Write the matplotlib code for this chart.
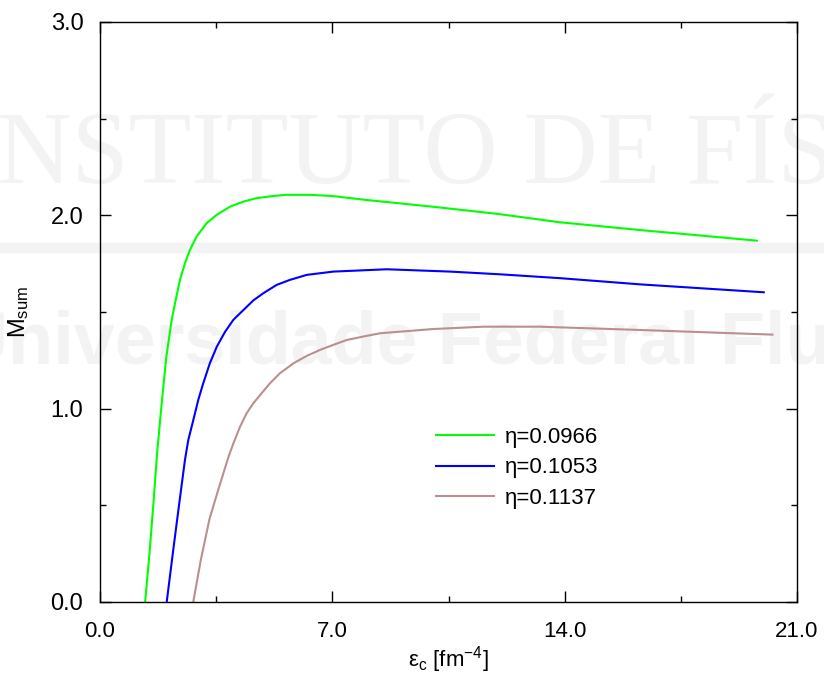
import matplotlib
matplotlib.use("Agg")
import matplotlib.pyplot as plt
from matplotlib.ticker import MultipleLocator, FormatStrFormatter
from matplotlib.patches import Rectangle

plt.rcParams['font.family'] = ['Liberation Sans', 'DejaVu Sans']
plt.rcParams['mathtext.fontset'] = 'custom'
plt.rcParams['mathtext.rm'] = 'Liberation Sans'
plt.rcParams['mathtext.it'] = 'Liberation Sans'

# eta = 0.0966
green_x = [1.36, 1.49, 1.61, 1.72, 1.86, 2.0, 2.16, 2.26, 2.41, 2.56, 2.71, 2.91,
           3.21, 3.51, 3.92, 4.32, 4.72, 5.22, 5.62, 6.33, 7.0, 8.0, 10.0, 12.0,
           13.86, 16.27, 19.79]
green_y = [0.0, 0.25, 0.51, 0.77, 1.03, 1.27, 1.459, 1.545, 1.666, 1.752, 1.821, 1.89,
           1.959, 2.002, 2.045, 2.071, 2.089, 2.100, 2.106, 2.106, 2.10, 2.08, 2.045, 2.007,
           1.964, 1.924, 1.869]

# eta = 0.1053
blue_x = [2.01, 2.2, 2.38, 2.56, 2.66, 2.81, 2.96, 3.11, 3.31, 3.52, 3.77, 4.02,
          4.32, 4.62, 4.92, 5.32, 5.72, 6.23, 7.03, 8.64, 10.55, 12.05, 13.86, 16.27, 20.0]
blue_y = [0.0, 0.26, 0.5, 0.735, 0.838, 0.94, 1.045, 1.131, 1.235, 1.321, 1.398, 1.46,
          1.51, 1.56, 1.597, 1.64, 1.666, 1.692, 1.709, 1.721, 1.709, 1.695, 1.675, 1.643, 1.602]

# eta = 0.1137
brown_x = [2.81, 3.04, 3.3, 3.58, 3.87, 4.02, 4.22, 4.42, 4.62, 4.87, 5.12, 5.42,
           5.83, 6.23, 6.63, 7.03, 7.43, 7.93, 8.44, 10.04, 11.55, 13.26, 16.27, 20.26]
brown_y = [0.0, 0.22, 0.43, 0.59, 0.75, 0.821, 0.907, 0.977, 1.028, 1.08, 1.131, 1.183,
           1.235, 1.273, 1.304, 1.33, 1.355, 1.373, 1.39, 1.412, 1.424, 1.424, 1.407, 1.383]

labels = ["η=0.0966", "η=0.1053", "η=0.1137"]
colors = ["#00ff00", "#0000ff", "#bc8f8f"]

fig = plt.figure(figsize=(8.24, 6.76), dpi=100)

# faint background watermark
wm = "#f3f3f3"
fig.text(-0.045, 1 - 183/676, "INSTITUTO DE FÍSICA", fontsize=74, color=wm,
         family="Liberation Serif", va="baseline", ha="left", zorder=-2)
fig.patches.append(Rectangle((0, 1 - 252/676), 1, 9/676, transform=fig.transFigure,
                             color=wm, zorder=-2))
fig.text(-0.055, 1 - 364/676, "Universidade Federal Fluminense", fontsize=53, color=wm,
         weight="bold", va="baseline", ha="left", zorder=-2)

ax = fig.add_axes([100/824, 1 - 602/676, 697/824, 580/676])
ax.set_zorder(1)
ax.patch.set_alpha(0)

ax.plot(green_x, green_y, color=colors[0], lw=1.5, label=labels[0])
ax.plot(blue_x, blue_y, color=colors[1], lw=1.5, label=labels[1])
ax.plot(brown_x, brown_y, color=colors[2], lw=1.5, label=labels[2])

ax.set_xlim(0, 21)
ax.set_ylim(0, 3)
ax.xaxis.set_major_locator(MultipleLocator(7))
ax.xaxis.set_minor_locator(MultipleLocator(3.5))
ax.yaxis.set_major_locator(MultipleLocator(1))
ax.yaxis.set_minor_locator(MultipleLocator(0.5))
ax.xaxis.set_major_formatter(FormatStrFormatter('%.1f'))
ax.yaxis.set_major_formatter(FormatStrFormatter('%.1f'))
ax.tick_params(which='both', direction='in', top=True, right=True, width=1)
ax.tick_params(which='major', length=8)
ax.tick_params(which='minor', length=4)
ax.tick_params(axis='y', labelsize=17, pad=12)
ax.tick_params(axis='x', labelsize=16, pad=14)
for lab in ax.get_xticklabels():
    lab.set_family(['Liberation Sans Narrow', 'Liberation Sans'])
for s in ax.spines.values():
    s.set_linewidth(1)

ax.set_xlabel("ε$_\\mathrm{c}$ [fm$^{-4}$]", fontsize=16, labelpad=1)
ax.set_ylabel("M$_\\mathrm{sum}$", fontsize=17, labelpad=14)

ax.legend(loc='upper left', bbox_to_anchor=((436 - 100)/697, (602 - 427)/580),
          frameon=False, fontsize=16, handlelength=2.6, handletextpad=0.5,
          labelspacing=0.42, borderpad=0, borderaxespad=0)

fig.savefig("out.png", dpi=100)
